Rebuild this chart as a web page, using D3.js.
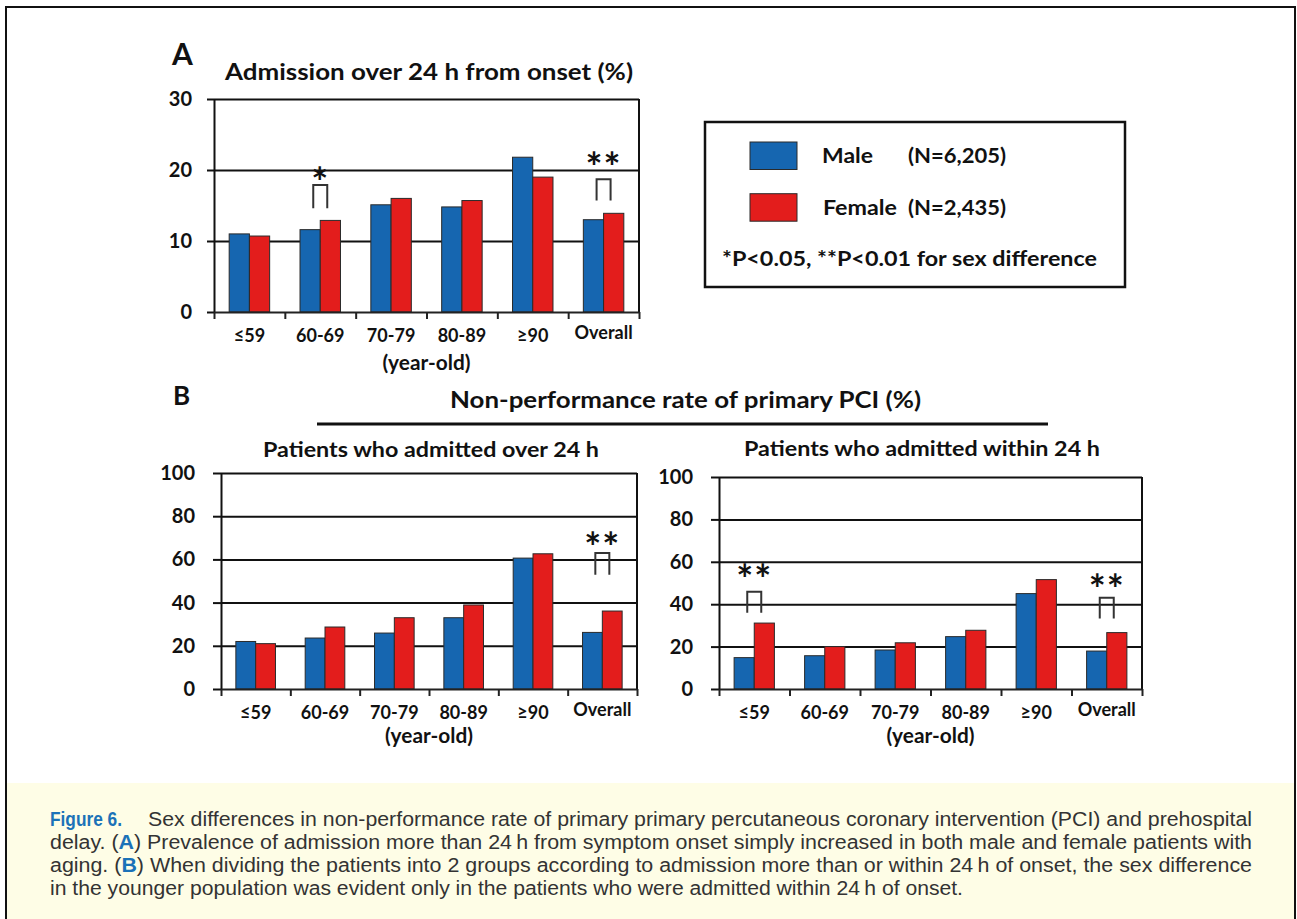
<!DOCTYPE html>
<meta charset="utf-8">
<html>
<head>
<style>
  body { margin: 0; background: #fff; }
  svg text { font-family: Lato, "Open Sans", sans-serif; }
</style>
</head>
<body>
<script src="https://d3js.org/d3.v7.min.js"></script>
<div id="figure"></div>

<script>
// ---- data ----
var ageGroups = ["≤59", "60-69", "70-79", "80-89", "≥90", "Overall"];
var sexes = ["Male", "Female"];
var legendCounts = ["(N=6,205)", "(N=2,435)"];

// A: admission over 24 h from onset (%)
var admitMale   = [11.0, 11.6, 15.1, 14.8, 21.8, 13.0];
var admitFemale = [10.7, 12.9, 16.0, 15.7, 19.0, 13.9];
var ticksA = [0, 10, 20, 30];

// B: non-performance rate of primary PCI (%)
var over24Male     = [22.0, 23.6, 25.9, 33.0, 60.6, 26.2];
var over24Female   = [21.0, 28.7, 33.0, 38.9, 62.6, 36.1];
var within24Male   = [14.8, 15.7, 18.4, 24.7, 45.0, 17.9];
var within24Female = [31.1, 20.0, 21.8, 27.7, 51.6, 26.6];
var ticksB = [0, 20, 40, 60, 80, 100];

// significance marks (values in axis units)
var sigA        = [{group: "60-69", label: "*", star: 19.5, top: 17.9, bottom: 14.6},
                   {group: "Overall", label: "**", star: 21.5, top: 18.7, bottom: 15.7}];
var sigOver24   = [{group: "Overall", label: "**", star: 69.6, top: 63.0, bottom: 52.9}];
var sigWithin24 = [{group: "≤59", label: "**", star: 55.8, top: 45.9, bottom: 36.0},
                   {group: "Overall", label: "**", star: 51.1, top: 43.1, bottom: 33.3}];

var sexColor = d3.scaleOrdinal().domain(sexes).range(["#1666b0", "#e31d1c"]);

var W = 1297, H = 919;
var svg = d3.select("#figure").append("svg")
    .attr("width", W).attr("height", H);

function fit(sel, w) {
  sel.attr("textLength", w).attr("lengthAdjust", "spacingAndGlyphs");
}

// caption band and frame
svg.append("rect").attr("x", 7).attr("y", 783).attr("width", 1288).attr("height", H - 783)
    .attr("fill", "#fefde6");
svg.append("path").attr("d", "M6,919V7H1295V919").attr("fill", "none")
    .attr("stroke", "#111").attr("stroke-width", 2);

// one bar panel
function drawPanel(cfg) {
  var g = svg.append("g");
  var x = d3.scaleBand().domain(ageGroups).range([cfg.left, cfg.right])
      .paddingInner(1.5 / 3.5).paddingOuter(0.75 / 3.5);
  var xs = d3.scaleBand().domain(sexes).range([0, x.bandwidth()]);
  var y = d3.scaleLinear().domain([0, cfg.max]).range([cfg.bottom, cfg.top]);

  // gridlines
  g.append("g").attr("transform", "translate(" + cfg.left + ",0)")
      .call(d3.axisLeft(y).tickValues(cfg.ticks.slice(1)).tickSize(-(cfg.right - cfg.left)).tickFormat(""))
      .call(function(a) { a.select(".domain").remove(); })
      .selectAll("line").attr("stroke", "#111").attr("stroke-width", 2);

  // right border
  g.append("line").attr("x1", cfg.right).attr("x2", cfg.right)
      .attr("y1", y(cfg.max)).attr("y2", y(0)).attr("stroke", "#111").attr("stroke-width", 2);

  // bars
  var rows = ageGroups.map(function(a, i) {
    return {group: a, values: [{sex: "Male", v: cfg.male[i]}, {sex: "Female", v: cfg.female[i]}]};
  });
  g.append("g").selectAll("g").data(rows).join("g")
      .attr("transform", function(d) { return "translate(" + x(d.group) + ",0)"; })
    .selectAll("rect").data(function(d) { return d.values; }).join("rect")
      .attr("x", function(d) { return xs(d.sex); })
      .attr("y", function(d) { return y(d.v); })
      .attr("width", xs.bandwidth())
      .attr("height", function(d) { return y(0) - y(d.v); })
      .attr("fill", function(d) { return sexColor(d.sex); })
      .attr("stroke", "#2a2a2a").attr("stroke-width", 1);

  // y axis
  var ya = g.append("g").attr("transform", "translate(" + cfg.left + ",0)")
      .call(d3.axisLeft(y).tickValues(cfg.ticks).tickSize(cfg.tickLen).tickSizeOuter(0).tickPadding(cfg.yPad));
  ya.selectAll("line, path").attr("stroke", "#111").attr("stroke-width", 2);
  ya.selectAll("text").attr("font-size", 20).attr("font-weight", "bold").attr("fill", "#111")
      .attr("font-family", "Lato");

  // x axis with category boundary ticks
  var xb = d3.scaleLinear().domain([0, ageGroups.length]).range([cfg.left, cfg.right]);
  var xa = g.append("g").attr("transform", "translate(0," + cfg.bottom + ")")
      .call(d3.axisBottom(xb).ticks(ageGroups.length).tickFormat("").tickSize(7).tickSizeOuter(0));
  xa.selectAll("line, path").attr("stroke", "#222").attr("stroke-width", 2);

  var xl = g.append("g").attr("transform", "translate(0," + cfg.bottom + ")")
      .call(d3.axisBottom(x).tickSize(0).tickPadding(17));
  xl.select(".domain").remove();
  xl.selectAll("text").attr("font-size", 18).attr("font-weight", "bold").attr("fill", "#111")
      .attr("font-family", "Lato")
      .attr("dy", function(d) { return d === "Overall" ? "0.55em" : "0.71em"; });

  g.append("text").attr("x", xb(3) - 44).attr("y", cfg.bottom + cfg.yearDy)
      .attr("font-size", 20).attr("font-weight", "bold")
      .attr("fill", "#111").text("(year-old)").call(fit, 88);

  // significance brackets and stars
  var s = g.append("g").selectAll("g").data(cfg.sig).join("g")
      .attr("transform", function(d) { return "translate(" + (x(d.group) + x.bandwidth() / 2) + ",0)"; });
  s.append("path")
      .attr("d", function(d) { return "M-7," + y(d.bottom) + "V" + y(d.top) + "H7V" + y(d.bottom); })
      .attr("fill", "none").attr("stroke", "#333").attr("stroke-width", 2);
  s.append("text").attr("y", function(d) { return y(d.star) + 23; })
      .attr("text-anchor", "middle").attr("font-size", 40).attr("font-weight", "bold")
      .attr("font-family", "DejaVu Sans").attr("letter-spacing", 1)
      .attr("fill", "#111").text(function(d) { return d.label; });
}

// ---- panel A ----
svg.append("text").attr("x", 172).attr("y", 65).attr("font-size", 30).attr("font-weight", "bold")
    .attr("fill", "#111").text("A");
svg.append("text").attr("x", 225).attr("y", 80).attr("font-size", 22).attr("font-weight", "bold")
    .attr("fill", "#111").text("Admission over 24 h from onset (%)").call(fit, 408);

drawPanel({left: 214, right: 639, top: 99, bottom: 312, max: 30, ticks: ticksA,
           male: admitMale, female: admitFemale, sig: sigA, tickLen: 7, yPad: 15, yearDy: 58});

// legend
var lg = svg.append("g");
lg.append("rect").attr("x", 705).attr("y", 122).attr("width", 420).attr("height", 165)
    .attr("fill", "#fff").attr("stroke", "#111").attr("stroke-width", 2.5);
var li = lg.selectAll("g.item").data(sexes).join("g").attr("class", "item")
    .attr("transform", function(d, i) { return "translate(0," + (i * 51.7) + ")"; });
li.append("rect").attr("x", 750).attr("y", 142).attr("width", 47).attr("height", 27.5)
    .attr("fill", function(d) { return sexColor(d); }).attr("stroke", "#2a2a2a").attr("stroke-width", 1);
li.append("text").attr("x", function(d, i) { return i ? 823 : 822; }).attr("y", 163)
    .attr("font-size", 20).attr("font-weight", "bold").attr("fill", "#111")
    .text(function(d) { return d; })
    .each(function(d, i) { fit(d3.select(this), i ? 74 : 51); });
li.append("text").attr("x", 908).attr("y", 163)
    .attr("font-size", 20).attr("font-weight", "bold").attr("fill", "#111")
    .text(function(d, i) { return legendCounts[i]; })
    .call(fit, 98);
lg.append("text").attr("x", 722).attr("y", 266).attr("font-size", 20).attr("font-weight", "bold")
    .attr("fill", "#111").text("*P<0.05, **P<0.01 for sex difference").call(fit, 375);

// ---- panel B ----
svg.append("text").attr("x", 173).attr("y", 405).attr("font-size", 26).attr("font-weight", "bold")
    .attr("fill", "#111").text("B");
svg.append("text").attr("x", 450).attr("y", 408).attr("font-size", 23).attr("font-weight", "bold")
    .attr("fill", "#111").text("Non-performance rate of primary PCI (%)").call(fit, 471);
svg.append("line").attr("x1", 317).attr("x2", 1048).attr("y1", 424).attr("y2", 424)
    .attr("stroke", "#111").attr("stroke-width", 3);
svg.append("text").attr("x", 263).attr("y", 457).attr("font-size", 21).attr("font-weight", "bold")
    .attr("fill", "#111").text("Patients who admitted over 24 h").call(fit, 336);
svg.append("text").attr("x", 744).attr("y", 456).attr("font-size", 21).attr("font-weight", "bold")
    .attr("fill", "#111").text("Patients who admitted within 24 h").call(fit, 356);

drawPanel({left: 221, right: 637, top: 473, bottom: 689, max: 100, ticks: ticksB,
           male: over24Male, female: over24Female, sig: sigOver24, tickLen: 8, yPad: 18, yearDy: 54});
drawPanel({left: 719, right: 1142, top: 477, bottom: 689, max: 100, ticks: ticksB,
           male: within24Male, female: within24Female, sig: sigWithin24, tickLen: 8, yPad: 18, yearDy: 54});

// ---- caption ----
var cap = svg.append("g").attr("font-family", "Liberation Sans, Arial, sans-serif")
    .attr("font-size", 20).attr("fill", "#333");
cap.append("text").attr("x", 50).attr("y", 826).attr("font-weight", "bold").attr("fill", "#1b72b8")
    .style("font-family", "Liberation Sans, Arial, sans-serif")
    .text("Figure 6.").call(fit, 72);
cap.append("text").attr("x", 148).attr("y", 826).style("font-family", "Liberation Sans, Arial, sans-serif")
    .text("Sex differences in non-performance rate of primary primary percutaneous coronary intervention (PCI) and prehospital")
    .call(fit, 1104);
var l2 = cap.append("text").attr("x", 50).attr("y", 849).style("font-family", "Liberation Sans, Arial, sans-serif");
l2.append("tspan").text("delay. (");
l2.append("tspan").attr("font-weight", "bold").attr("fill", "#1b72b8").text("A");
l2.append("tspan").text(") Prevalence of admission more than 24\u2009h from symptom onset simply increased in both male and female patients with");
l2.call(fit, 1202);
var l3 = cap.append("text").attr("x", 50).attr("y", 872).style("font-family", "Liberation Sans, Arial, sans-serif");
l3.append("tspan").text("aging. (");
l3.append("tspan").attr("font-weight", "bold").attr("fill", "#1b72b8").text("B");
l3.append("tspan").text(") When dividing the patients into 2 groups according to admission more than or within 24\u2009h of onset, the sex difference");
l3.call(fit, 1202);
cap.append("text").attr("x", 50).attr("y", 895).style("font-family", "Liberation Sans, Arial, sans-serif")
    .text("in the younger population was evident only in the patients who were admitted within 24\u2009h of onset.")
    .call(fit, 913);
</script>
</body>
</html>
